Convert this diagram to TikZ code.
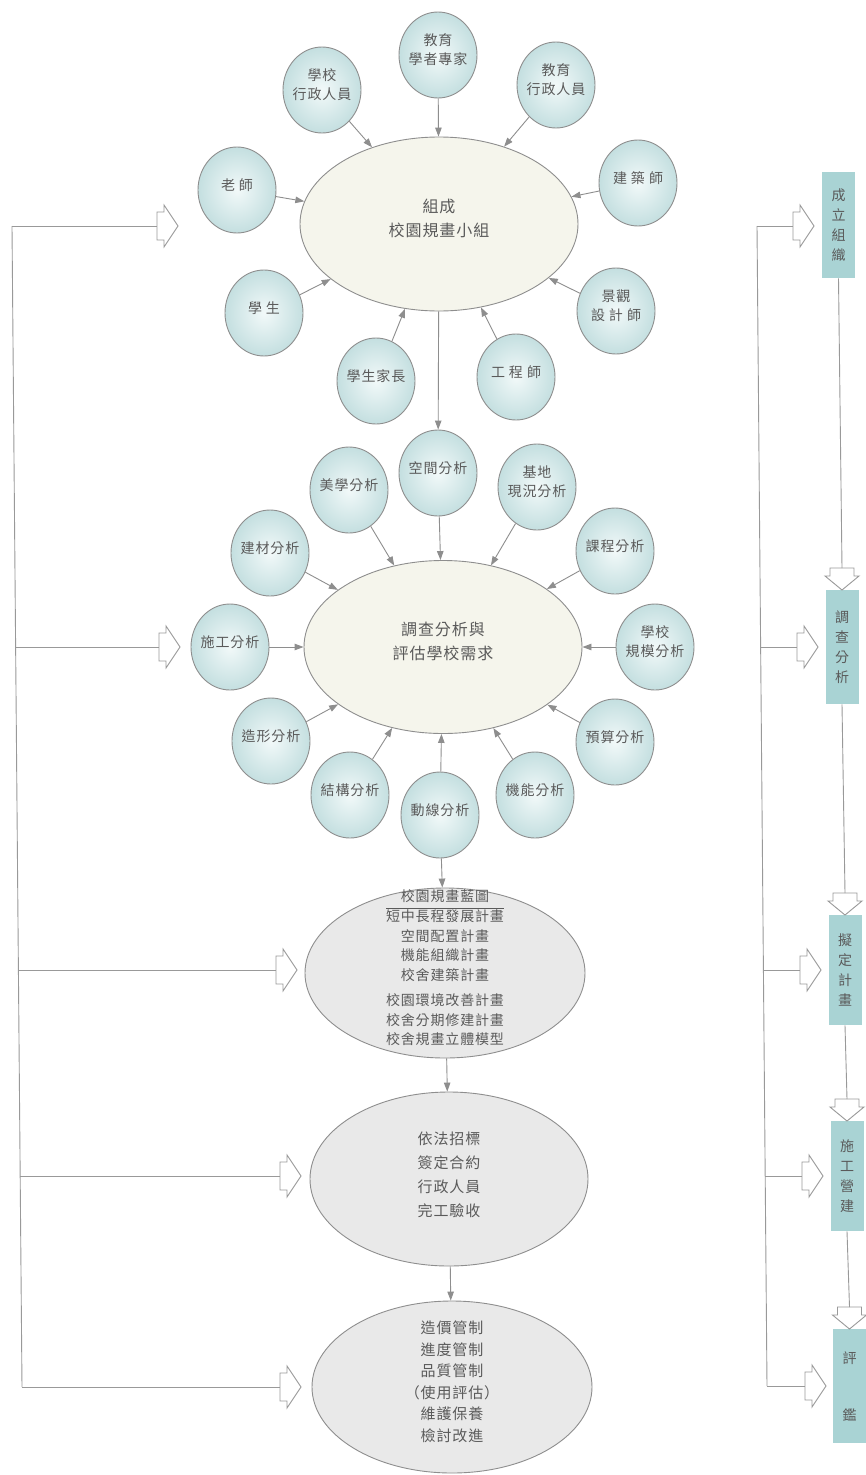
\documentclass[tikz,border=0pt]{standalone}
\usepackage{fontspec}
\setmainfont{Noto Sans CJK TC}[LetterSpace=6]
\usetikzlibrary{arrows.meta, shapes.geometric}
\definecolor{cink}{HTML}{5A5A5A}
\definecolor{cline}{HTML}{8E8E8E}
\definecolor{cball}{HTML}{C4DFE0}
\definecolor{cballin}{HTML}{F2F9F9}
\definecolor{ccream}{HTML}{F5F5EC}
\definecolor{cgrey}{HTML}{E9E9E9}
\definecolor{cteal}{HTML}{A9D3D4}
\newcommand\ctr[1]{\smash{\makebox[0pt]{\begin{tabular}{@{}c@{}}#1\end{tabular}}}}
\newcommand\cgap{\hspace{4pt}}
\tikzset{
  every picture/.style={x=1pt, y=-1pt, line width=0.9pt},
  ball/.style={ellipse, draw=cline, inner color=cballin, outer color=cball, minimum width=78pt, minimum height=86pt, inner sep=0pt, text=cink, font=\fontsize{14}{19}\selectfont},
  big/.style={ellipse, draw=cline, fill=#1, minimum width=278pt, minimum height=174pt, inner sep=0pt, text=cink},
  big/.default=ccream,
  arrow/.style={-{Triangle[length=9pt, width=6.5pt]}, draw=cline, line width=0.9pt},
  wire/.style={draw=cline!90, line width=0.9pt},
  tag/.style={rectangle, fill=cteal, minimum width=33pt, inner sep=0pt, text=cink, align=center, font=\fontsize{14}{20}\selectfont},
  hollow/.pic={\draw[wire, fill=white] (0,-14) -- (7,-14) -- (7,-21) -- (21,0) -- (7,21) -- (7,14) -- (0,14) -- cycle;},
  hollowdown/.pic={\draw[wire, fill=white] (-12,0) -- (-12,8) -- (-17,8) -- (0,22) -- (17,8) -- (12,8) -- (12,0) -- cycle;},
}
\begin{document}
\begin{tikzpicture}
  \fill[white] (0,0) rectangle (865,1475);
  \useasboundingbox (0,0) rectangle (865,1475);

  \node[big, font=\fontsize{16}{24}\selectfont] (team) at (439,224) {\ctr{組成\\校園規畫小組}};
  \foreach \n/\x/\y/\t in {s1/438/55/{教育\\學者專家}, s2/322/90/{學校\\行政人員}, s3/556/85/{教育\\行政人員},
      s4/237/190/{老\cgap 師}, s5/638/183/{建\cgap 築\cgap 師}, s6/264/313/{學\cgap 生},
      s7/616/311/{景觀\\設\cgap 計\cgap 師}, s8/376/381/{學生家長}, s9/516/377/{工\cgap 程\cgap 師}} {
    \node[ball] (\n) at (\x,\y) {\ctr{\t}};
    \draw[arrow] (\n) -- (team);
  }

  \node[big, minimum height=173pt, font=\fontsize{16}{24}\selectfont] (survey) at (443,647) {\ctr{調查分析與\\評估學校需求}};
  \foreach \n/\x/\y/\t in {m1/438/473/{空間分析}, m2/349/490/{美學分析}, m3/537/487/{基地\\現況分析},
      m4/270/553/{建材分析}, m5/615/551/{課程分析}, m6/230/647/{施工分析}, m7/655/647/{學校\\規模分析},
      m8/271/741/{造形分析}, m9/615/742/{預算分析}, m10/350/795/{結構分析}, m11/440/815/{動線分析},
      m12/535/795/{機能分析}} {
    \node[ball] (\n) at (\x,\y) {\ctr{\t}};
    \draw[arrow] (\n) -- (survey);
  }
  \draw[arrow] (team) -- (m1);

  \node[big=cgrey, minimum width=280pt, minimum height=170pt, font=\fontsize{14}{19.5}\selectfont] (plan) at (445,973)
    {\ctr{校園規畫藍圖\\\hline 短中長程發展計畫\\空間配置計畫\\機能組織計畫\\校舍建築計畫\\[6pt]校園環境改善計畫\\校舍分期修建計畫\\校舍規畫立體模型}};
  \node[big=cgrey, font=\fontsize{15}{24}\selectfont] (build) at (449,1179) {\ctr{依法招標\\簽定合約\\行政人員\\完工驗收}};
  \node[big=cgrey, minimum width=280pt, minimum height=172pt, font=\fontsize{15}{21.5}\selectfont] (check) at (452,1387)
    {\ctr{造價管制\\進度管制\\品質管制\\（使用評估）\\維護保養\\檢討改進}};
  \draw[arrow] (m11) -- (plan);
  \draw[arrow] (plan) -- (build);
  \draw[arrow] (build) -- (check);

  \node[tag, minimum height=106pt] (r1) at (838.5,225) {成\\立\\組\\織};
  \node[tag, minimum height=114pt] (r2) at (842,647) {調\\查\\分\\析};
  \node[tag, minimum height=110pt] (r3) at (845,970) {擬\\定\\計\\畫};
  \node[tag, minimum height=110pt] (r4) at (847,1176) {施\\工\\營\\建};
  \node[tag, minimum height=114pt] (r5) at (849.5,1386) {評\\[37pt]鑑};

  \foreach \k/\sx/\tx/\y in {1/757/793/226, 2/761/797/647, 3/764/800/970, 4/765/802/1176, 5/767/805/1386} {
    \coordinate (rb\k) at (\sx,\y);
    \coordinate (rt\k) at (\tx,\y);
    \draw[wire] (rb\k) -- (rt\k);
    \pic at (rt\k) {hollow};
  }
  \draw[wire] (rb1) -- (rb5);

  \foreach \k/\x/\y in {2/842/568, 3/845/893, 4/847/1099, 5/849.5/1307} {
    \coordinate (rd\k) at (\x,\y);
    \pic at (rd\k) {hollowdown};
  }
  \draw[wire] (r1.south) -- (rd2);
  \draw[wire] (r2.south) -- (rd3);
  \draw[wire] (r3.south) -- (rd4);
  \draw[wire] (r4.south) -- (rd5);

  \foreach \k/\sx/\tx/\y in {1/12/157/226, 2/15.5/159/647, 3/18.5/276/970, 4/20/280/1176, 5/22/280/1387} {
    \coordinate (lb\k) at (\sx,\y);
    \coordinate (lt\k) at (\tx,\y);
    \draw[wire] (lb\k) -- (lt\k);
    \pic at (lt\k) {hollow};
  }
  \draw[wire] (lb1) -- (lb5);
\end{tikzpicture}
\end{document}
